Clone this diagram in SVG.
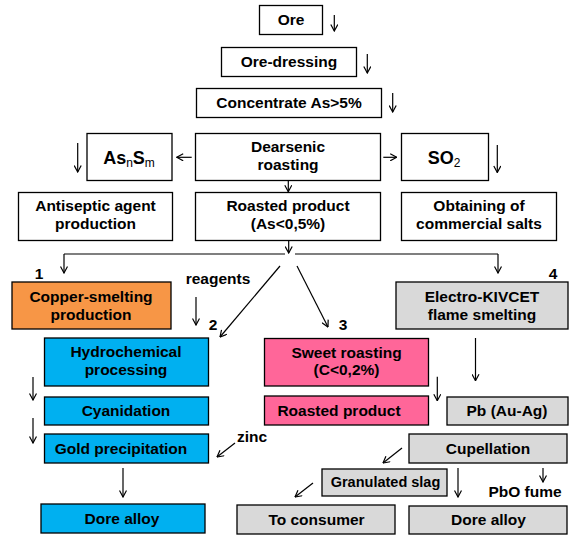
<svg xmlns="http://www.w3.org/2000/svg" width="584" height="541" viewBox="0 0 584 541">
<style>
.b{stroke:#000;stroke-width:1.3}
.w{fill:#fff}.o{fill:#F79646}.c{fill:#00B0F0}.p{fill:#FF6699}.g{fill:#D9D9D9}
text{font-family:"Liberation Sans",Arial,sans-serif;font-weight:bold;font-size:15.5px;fill:#000;text-anchor:middle}
.sub{font-weight:normal;font-size:12px}
.big{font-size:18px}
.k line{stroke:#000;stroke-width:1.2;marker-end:url(#ah)}
.k .nl{marker-end:none}
</style>
<defs>
<marker id="ah" viewBox="0 0 8 8" refX="7.5" refY="4" markerWidth="8" markerHeight="8" markerUnits="userSpaceOnUse" orient="auto">
<path d="M1,0.5 L7.5,4 L1,7.5" fill="none" stroke="#000" stroke-width="1.2"/>
</marker>
</defs>
<g id="ore"><rect class="b w" x="259.5" y="5.5" width="63" height="29"/><text x="291" y="25">Ore</text></g>
<g id="ore-dressing"><rect class="b w" x="221.5" y="47.5" width="135" height="29"/><text x="289" y="67">Ore-dressing</text></g>
<g id="concentrate"><rect class="b w" x="196.5" y="88.5" width="185" height="29"/><text x="289" y="108">Concentrate As&gt;5%</text></g>
<g id="dearsenic"><rect class="b w" x="195.5" y="133.5" width="185" height="47"/><text x="288" y="152">Dearsenic</text><text x="288" y="170">roasting</text></g>
<g id="asnsm"><rect class="b w" x="87" y="133.5" width="85" height="47"/><text x="129" y="164" class="big">As<tspan class="sub" dy="3">n</tspan><tspan dy="-3">S</tspan><tspan class="sub" dy="3">m</tspan></text></g>
<g id="so2"><rect class="b w" x="401.5" y="133.5" width="87" height="47"/><text x="444" y="164" class="big">SO<tspan class="sub" dy="3">2</tspan></text></g>
<g id="antiseptic"><rect class="b w" x="18.5" y="192.5" width="154" height="48"/><text x="95.5" y="211">Antiseptic agent</text><text x="95.5" y="229">production</text></g>
<g id="roasted"><rect class="b w" x="195.5" y="192.5" width="185" height="48"/><text x="288" y="211">Roasted product</text><text x="288" y="229">(As&lt;0,5%)</text></g>
<g id="obtaining"><rect class="b w" x="401.5" y="192.5" width="155" height="48"/><text x="479" y="211">Obtaining of</text><text x="479" y="229">commercial salts</text></g>
<g id="copper"><rect class="b o" x="12" y="282" width="159" height="47"/><text x="91" y="302">Copper-smelting</text><text x="91" y="319.5">production</text></g>
<g id="electro"><rect class="b g" x="396" y="282" width="172" height="47"/><text x="482" y="302">Electro-KIVCET</text><text x="482" y="319.5">flame smelting</text></g>
<g id="hydro"><rect class="b c" x="44.5" y="338" width="164" height="48"/><text x="126" y="357">Hydrochemical</text><text x="126" y="375">processing</text></g>
<g id="sweet"><rect class="b p" x="264.5" y="338.5" width="164" height="47.5"/><text x="346.5" y="357.5">Sweet roasting</text><text x="346.5" y="375">(C&lt;0,2%)</text></g>
<g id="cyanidation"><rect class="b c" x="44.5" y="397" width="164" height="28"/><text x="126" y="415.5">Cyanidation</text></g>
<g id="gold"><rect class="b c" x="44.5" y="434" width="164" height="29"/><text x="121" y="453.5">Gold precipitation</text></g>
<g id="dore-left"><rect class="b c" x="41" y="504" width="164" height="29"/><text x="122" y="524">Dore alloy</text></g>
<g id="roasted-pink"><rect class="b p" x="264.5" y="396" width="164" height="29"/><text x="339" y="415.5">Roasted product</text></g>
<g id="pb"><rect class="b g" x="447" y="397" width="121" height="28"/><text x="507" y="415.5">Pb (Au-Ag)</text></g>
<g id="cupellation"><rect class="b g" x="409" y="434" width="158" height="29"/><text x="488" y="453.5">Cupellation</text></g>
<g id="granulated"><rect class="b g" x="322" y="469" width="125" height="27"/><text x="385.5" y="487" style="font-size:14.5px">Granulated slag</text></g>
<g id="consumer"><rect class="b g" x="237" y="505" width="158" height="29"/><text x="316.5" y="524.5">To consumer</text></g>
<g id="dore-right"><rect class="b g" x="409" y="506" width="158" height="28"/><text x="488.5" y="524.5">Dore alloy</text></g>
<g id="labels">
<text x="39" y="279">1</text><text x="213" y="330">2</text><text x="343" y="330">3</text><text x="553" y="279">4</text>
<text x="218" y="284">reagents</text>
<text x="252" y="442">zinc</text>
<text x="525" y="497">PbO fume</text>
</g>
<g id="connectors" class="k">
<line x1="334.3" y1="15" x2="334.3" y2="31"/>
<line x1="367.3" y1="54" x2="367.3" y2="73"/>
<line x1="392.7" y1="93" x2="392.7" y2="112"/>
<line x1="77.7" y1="143" x2="77.7" y2="172"/>
<line x1="497.3" y1="145" x2="497.3" y2="172.5"/>
<line x1="191.7" y1="157.3" x2="176.7" y2="157.3"/>
<line x1="383.3" y1="157.3" x2="396.7" y2="157.3"/>
<line x1="288.3" y1="180.5" x2="288.3" y2="191.7"/>
<line x1="288.7" y1="240.5" x2="288.7" y2="253"/>
<line class="nl" x1="64" y1="254" x2="285" y2="254"/>
<line class="nl" x1="295" y1="254" x2="498" y2="254"/>
<line x1="64" y1="254" x2="64" y2="273"/>
<line x1="498" y1="254" x2="498" y2="273"/>
<line x1="280" y1="266" x2="220" y2="337"/>
<line x1="297" y1="266" x2="328" y2="327"/>
<line x1="196" y1="297" x2="196" y2="325"/>
<line x1="475.5" y1="338" x2="475.5" y2="380.7"/>
<line x1="33" y1="377" x2="33" y2="400"/>
<line x1="33" y1="418" x2="33" y2="443"/>
<line x1="437.3" y1="376.7" x2="437.3" y2="400.7"/>
<line x1="235" y1="443" x2="217" y2="457"/>
<line x1="123" y1="468" x2="123" y2="497"/>
<line x1="402" y1="448" x2="383" y2="463"/>
<line x1="458" y1="468" x2="458" y2="497"/>
<line x1="543" y1="468" x2="543" y2="482"/>
<line x1="313" y1="483" x2="295" y2="497"/>
</g>
</svg>
